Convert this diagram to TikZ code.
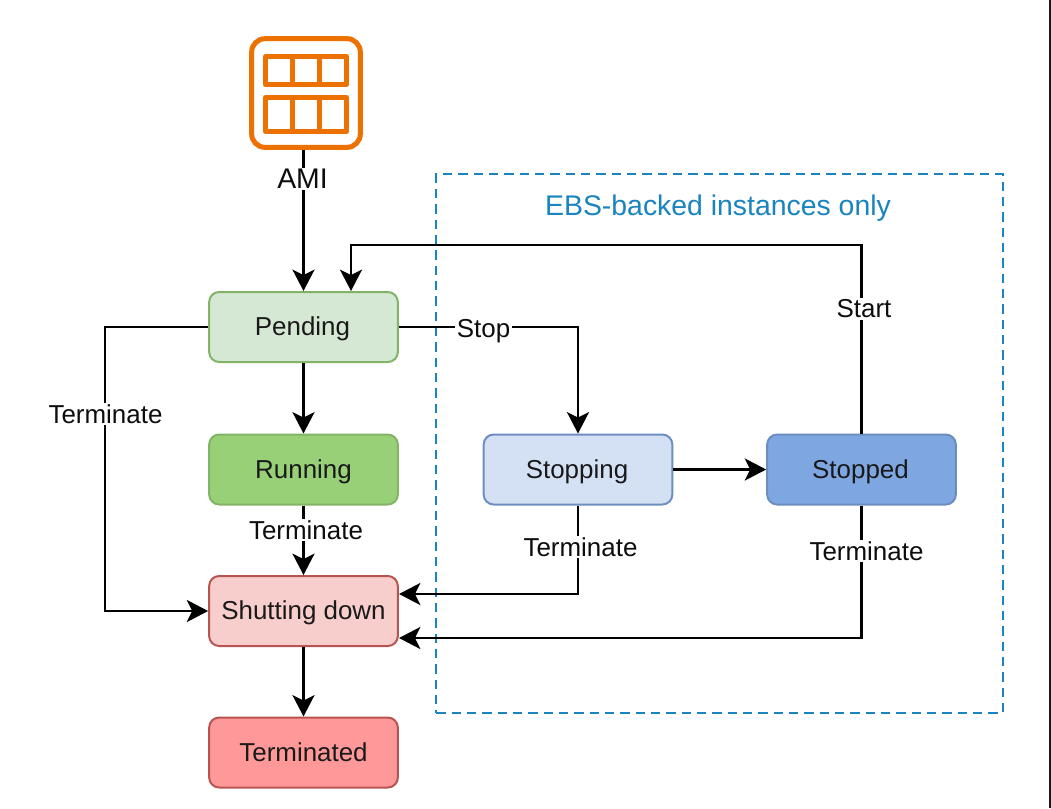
\documentclass[tikz,border=0pt]{standalone}
\usepackage{fontspec}
\setmainfont{Liberation Sans}
\usetikzlibrary{arrows.meta,calc}
\definecolor{amiorange}{HTML}{ED7100}
\definecolor{ebsblue}{HTML}{1A84BE}
\tikzset{
  x=0.75pt,y=-0.75pt,
  every node/.style={font=\fontsize{19.45pt}{23pt}\selectfont},
  bigtext/.style={font=\fontsize{21.3pt}{25pt}\selectfont},
  state/.style={draw,line width=1.5pt,rounded corners=7.5pt,minimum width=141.5pt,minimum height=52.5pt,inner sep=0pt,text=black!90,text height=12.8pt,text depth=0pt},
  conn/.style={draw=black,line width=1.9pt,-{Stealth[length=16pt,width=16.5pt,inset=4pt]}},
  lab/.style={fill=white,inner sep=1pt,text=black!95},
  iconline/.style={draw=amiorange,line width=3.75pt,line join=round},
}
\begin{document}
\begin{tikzpicture}
\useasboundingbox (0,0) rectangle (1051,808);
\fill[white] (0,0) rectangle (1051,808);
\fill[black!90] (1049,0) rectangle (1051,808);
% EBS group
\node[draw=ebsblue,line width=1.5pt,dash pattern=on 7pt off 4.5pt,minimum width=425pt,minimum height=404pt,inner sep=0pt] (ebs) at (719.5,443.5) {};
\node[bigtext,text=ebsblue,inner sep=0pt] (ebslabel) at (718,208.5) {EBS-backed instances only};
% AMI icon
\node[iconline,rounded corners=10pt,minimum width=81.5pt,minimum height=81.5pt,inner sep=0pt] (ami) at (306,93) {};
\draw[iconline] (265.5,56.5) rectangle (346.5,84.5);
\draw[iconline] (265.5,97.5) rectangle (346.5,131.5);
\draw[iconline] (292,56.5) -- (292,84.5) (319,56.5) -- (319,84.5);
\draw[iconline] (292,97.5) -- (292,131.5) (319,97.5) -- (319,131.5);
% states
\node[state,fill={rgb,255:red,213;green,232;blue,212},draw={rgb,255:red,130;green,179;blue,102}] (pending) at (303.5,327) {\hspace{-1.5pt}Pending};
\node[state,fill={rgb,255:red,151;green,208;blue,119},draw={rgb,255:red,130;green,179;blue,102}] (running) at (303.5,469.5) {Running};
\node[state,fill={rgb,255:red,248;green,206;blue,204},draw={rgb,255:red,184;green,84;blue,80}] (shutting) at (303.5,611) {Shutting down};
\node[state,fill={rgb,255:red,255;green,153;blue,153},draw={rgb,255:red,184;green,84;blue,80}] (terminated) at (303.5,752.5) {Terminated};
\node[state,fill={rgb,255:red,212;green,225;blue,245},draw={rgb,255:red,108;green,142;blue,191}] (stopping) at (578,469.5) {\hspace{-1.5pt}Stopping};
\node[state,fill={rgb,255:red,126;green,166;blue,224},draw={rgb,255:red,108;green,142;blue,191}] (stopped) at (861.5,469.5) {\hspace{-1.5pt}Stopped};
% free corner coordinates
\coordinate (amiout) at (pending.north |- ami.south);
\coordinate (startcorner) at (861.5,245);
\coordinate (pendingin) at (351,245);
\coordinate (termleft) at (105,327);
\coordinate (shutA) at (399,594);
\coordinate (shutB) at (399,638);
% connectors
\draw[conn] (amiout) -- (pending.north);
\draw[conn] (pending) -- (running);
\draw[conn] (running) -- (shutting);
\draw[conn] (shutting) -- (terminated);
\draw[conn] (stopping) -- (stopped);
\draw[conn] (pending.east) -| (stopping.north);
\draw[conn] (stopped.north) -- (startcorner) -- (pendingin) -- (pendingin |- pending.north);
\draw[conn] (pending.west) -- (termleft) |- (shutting.west);
\draw[conn] (stopping.south) |- (shutA);
\draw[conn] (stopped.south) |- (shutB);
% labels
\node[lab,bigtext] (lami) at (302.5,179) {AMI};
\node[lab] (lstop) at (483.5,331) {Stop};
\node[lab] (lstart) at (864,309) {Start};
\node[lab] (lt1) at (105.5,414) {Terminate};
\node[lab] (lt2) at (306,530) {Terminate};
\node[lab] (lt3) at (580.5,547) {Terminate};
\node[lab] (lt4) at (866.5,551) {Terminate};
\end{tikzpicture}
\end{document}
